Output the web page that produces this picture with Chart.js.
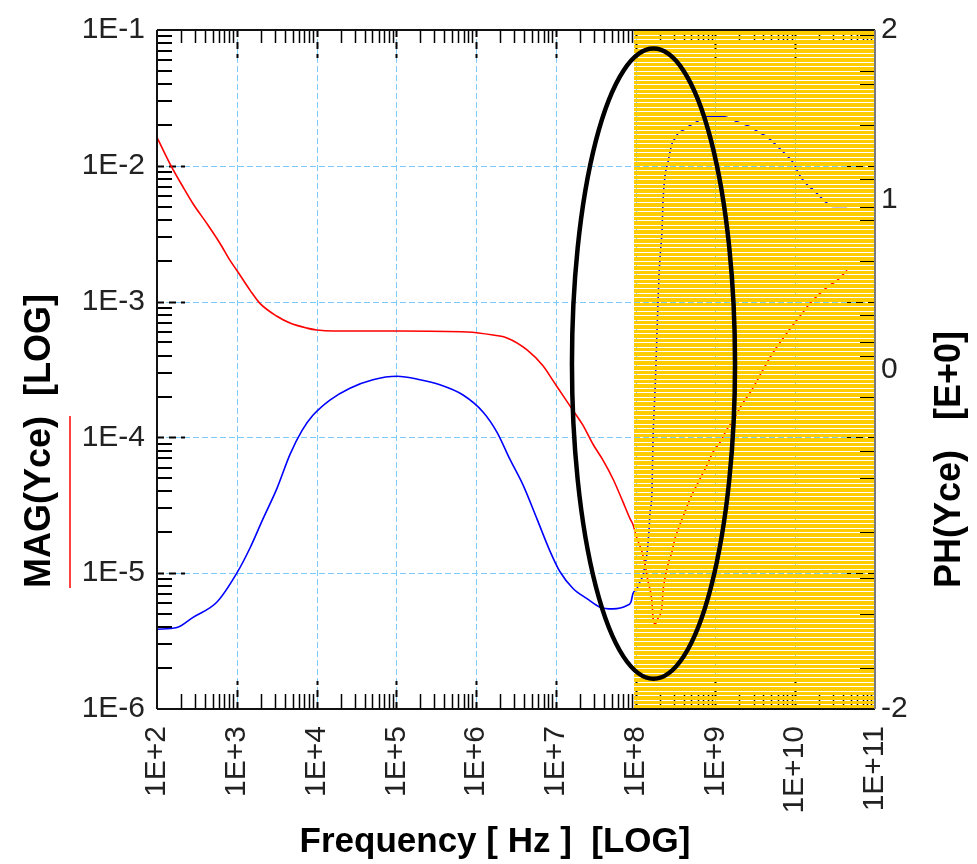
<!DOCTYPE html>
<html>
<head>
<meta charset="utf-8">
<title>Yce magnitude and phase</title>
<script src="https://cdn.jsdelivr.net/npm/chart.js@4/dist/chart.umd.min.js"></script>
<style>
  html, body { margin: 0; padding: 0; background: #ffffff; }
  canvas { display: block; }
</style>
</head>
<body>
<canvas id="chart" width="977" height="864"></canvas>
<script>
// Admittance Yce: magnitude (log axis, left) and phase (linear axis, right)
const magFreqHz = [
  100, 146, 212, 283, 423, 617, 823, 1.0e3, 1.47e3, 1.95e3,
  3.19e3, 4.65e3, 7.59e3, 1.01e4, 1.61e4, 1.11e5, 7.69e5, 1.63e6, 2.44e6, 4.35e6,
  6.89e6, 9.2e6, 1.23e7, 1.64e7, 2.18e7, 2.92e7, 3.89e7, 5.2e7, 6.93e7, 8.49e7,
  9.25e7, 1.04e8, 1.2e8, 1.31e8, 1.43e8, 1.6e8, 1.65e8, 1.75e8, 1.91e8, 2.14e8,
  2.2e8, 2.33e8, 2.54e8, 2.85e8, 3.11e8, 3.59e8, 4.15e8, 4.8e8, 6.4e8, 7.83e8,
  9.31e8, 1.14e9, 1.4e9, 1.66e9, 2.15e9, 2.87e9, 3.89e9, 5.26e9, 7.88e9, 1.15e10,
  1.53e10, 2.04e10, 2.73e10, 3.34e10, 4.46e10
];
const magYce = [
  1.62e-2, 1.03e-2, 6.98e-3, 5.25e-3, 3.75e-3, 2.68e-3, 2.01e-3, 1.70e-3, 1.21e-3, 9.7e-4,
  7.8e-4, 6.95e-4, 6.38e-4, 6.18e-4, 6.07e-4, 6.07e-4, 5.97e-4, 5.67e-4, 5.40e-4, 4.41e-4,
  3.37e-4, 2.62e-4, 2.03e-4, 1.58e-4, 1.23e-4, 8.9e-5, 6.8e-5, 4.94e-5, 3.35e-5, 2.52e-5,
  2.28e-5, 1.80e-5, 1.44e-5, 1.16e-5, 8.7e-6, 6.2e-6, 4.67e-6, 4.22e-6, 4.67e-6, 5.71e-6,
  7.36e-6, 9.2e-6, 1.16e-5, 1.44e-5, 1.80e-5, 2.28e-5, 2.83e-5, 3.52e-5, 4.94e-5, 6.25e-5,
  7.78e-5, 9.2e-5, 1.15e-4, 1.33e-4, 1.75e-4, 2.25e-4, 3.10e-4, 4.20e-4, 5.87e-4, 7.82e-4,
  9.7e-4, 1.15e-3, 1.32e-3, 1.43e-3, 1.70e-3
];

const phFreqHz = [
  100, 178, 283, 565, 1.0e3, 1.47e3, 2.13e3, 3.19e3, 4.65e3, 6.56e3,
  9.0e3, 1.47e4, 2.62e4, 5.09e4, 1.02e5, 1.98e5, 3.52e5, 6.86e5, 1.22e6, 1.83e6,
  2.66e6, 3.87e6, 5.79e6, 8.43e6, 1.12e7, 1.64e7, 2.45e7, 3.57e7, 5.2e7, 7.78e7,
  8.73e7, 9.25e7, 1.04e8, 1.13e8, 1.24e8, 1.31e8, 1.39e8, 1.43e8, 1.47e8, 1.51e8,
  1.6e8, 1.65e8, 1.7e8, 1.75e8, 1.8e8, 1.85e8, 1.91e8, 1.96e8, 2.02e8, 2.14e8,
  2.2e8, 2.33e8, 2.54e8, 2.69e8, 2.85e8, 3.11e8, 3.39e8, 3.92e8, 4.53e8, 5.87e8,
  7.83e8, 1.24e9, 1.86e9, 2.71e9, 3.41e9, 4.43e9, 5.26e9, 6.44e9, 7.88e9, 9.38e9,
  1.15e10, 1.4e10, 1.67e10, 2.04e10, 2.5e10, 2.97e10, 4.46e10
];
const phYce = [
  -1.53, -1.52, -1.46, -1.37, -1.20, -1.05, -0.88, -0.70, -0.50, -0.36,
  -0.27, -0.18, -0.11, -0.06, -0.04, -0.06, -0.09, -0.15, -0.25, -0.37,
  -0.53, -0.68, -0.88, -1.07, -1.19, -1.29, -1.35, -1.40, -1.41, -1.39,
  -1.37, -1.32, -1.29, -1.25, -1.21, -1.15, -1.08, -1.02, -0.95, -0.85,
  -0.72, -0.41, -0.25, -0.12, 0.04, 0.22, 0.41, 0.55, 0.66, 0.82,
  0.99, 1.14, 1.22, 1.28, 1.33, 1.36, 1.39, 1.41, 1.43, 1.46,
  1.49, 1.49, 1.46, 1.43, 1.40, 1.37, 1.34, 1.30, 1.26, 1.22,
  1.14, 1.09, 1.06, 1.02, 0.98, 0.96, 0.96
];

// Axis ticks and their labels
const freqTicks = [1e2, 1e3, 1e4, 1e5, 1e6, 1e7, 1e8, 1e9, 1e10, 1e11];
const freqTickLabels = ['1E+2', '1E+3', '1E+4', '1E+5', '1E+6', '1E+7', '1E+8', '1E+9', '1E+10', '1E+11'];
const magTicks = [1e-6, 1e-5, 1e-4, 1e-3, 1e-2, 1e-1];
const magTickLabels = ['1E-6', '1E-5', '1E-4', '1E-3', '1E-2', '1E-1'];
const phTicks = [-2, -1, 0, 1, 2];
const phTickLabels = ['-2', '', '0', '1', '2'];

// Hatched frequency band and the ringed resonance region
const shadedBandHz = [1e8, 1e11];
const highlightHz = [1.59e7, 1.76e9];
const highlightMag = [1.67e-6, 7.3e-2];

const FONT = '"Liberation Sans", Arial, Helvetica, sans-serif';
const GRID_BLUE = '#7ccbfb';

const frame = {
  id: 'frame',
  beforeDatasetsDraw(chart) {
    const { ctx, chartArea: a, scales: { x, y } } = chart;
    ctx.save();

    // dashed decade grid
    ctx.strokeStyle = GRID_BLUE;
    ctx.lineWidth = 1;
    ctx.setLineDash([6, 3]);
    ctx.beginPath();
    for (let i = 1; i < freqTicks.length - 1; i++) {
      const px = Math.round(x.getPixelForValue(freqTicks[i])) + 0.5;
      ctx.moveTo(px, a.top); ctx.lineTo(px, a.bottom);
    }
    for (let i = 1; i < magTicks.length - 1; i++) {
      const py = Math.round(y.getPixelForValue(magTicks[i])) + 0.5;
      ctx.moveTo(a.left, py); ctx.lineTo(a.right, py);
    }
    ctx.stroke();
    ctx.setLineDash([]);

    ctx.strokeStyle = '#000';
    // minor ticks: frequency axis (bottom and top edges)
    ctx.lineWidth = 1.5;
    ctx.beginPath();
    for (let i = 0; i < freqTicks.length - 1; i++) {
      for (let k = 2; k <= 9; k++) {
        const px = Math.round(x.getPixelForValue(freqTicks[i] * k)) + 0.5;
        ctx.moveTo(px, a.bottom); ctx.lineTo(px, a.bottom - 15);
        ctx.moveTo(px, a.top); ctx.lineTo(px, a.top + 13);
      }
    }
    ctx.stroke();

    // minor ticks: magnitude axis (left and right edges)
    ctx.lineWidth = 2;
    ctx.beginPath();
    for (let i = 0; i < magTicks.length - 1; i++) {
      for (let k = 2; k <= 9; k++) {
        const py = Math.round(y.getPixelForValue(magTicks[i] * k));
        ctx.moveTo(a.left, py); ctx.lineTo(a.left + 15, py);
        ctx.moveTo(a.right, py); ctx.lineTo(a.right - 15, py);
      }
    }
    ctx.stroke();

    // major ticks: short dashed strokes along the decade grid lines
    ctx.lineWidth = 2;
    ctx.setLineDash([7, 5]);
    ctx.beginPath();
    for (let i = 1; i < freqTicks.length - 1; i++) {
      const px = Math.round(x.getPixelForValue(freqTicks[i])) + 0.5;
      ctx.moveTo(px, a.bottom); ctx.lineTo(px, a.bottom - 28);
      ctx.moveTo(px, a.top); ctx.lineTo(px, a.top + 28);
    }
    for (let i = 1; i < magTicks.length - 1; i++) {
      const py = Math.round(y.getPixelForValue(magTicks[i])) + 0.5;
      ctx.moveTo(a.left, py); ctx.lineTo(a.left + 28, py);
      ctx.moveTo(a.right, py); ctx.lineTo(a.right - 28, py);
    }
    ctx.stroke();
    ctx.restore();
  },
  afterDatasetsDraw(chart) {
    const { ctx, chartArea: a, scales: { x, y } } = chart;
    ctx.save();

    // yellow band with thin white hatch lines
    const bx0 = Math.round(x.getPixelForValue(shadedBandHz[0])) - 2;
    const bx1 = Math.round(x.getPixelForValue(shadedBandHz[1]));
    const rows = 150;
    const h = (a.bottom - a.top) / rows;
    ctx.fillStyle = '#ffcc00';
    for (let i = 0; i < rows; i++) {
      const r0 = Math.round(a.top + i * h);
      const r1 = Math.round(a.top + (i + 1) * h);
      ctx.fillRect(bx0, r0 + 1, bx1 - bx0, r1 - r0 - 1);
    }

    // plot frame
    ctx.lineWidth = 2;
    ctx.strokeStyle = '#111';
    ctx.beginPath();
    ctx.moveTo(a.left, a.top); ctx.lineTo(a.right, a.top);
    ctx.moveTo(a.left, a.top); ctx.lineTo(a.left, a.bottom);
    ctx.moveTo(a.left, a.bottom); ctx.lineTo(a.right, a.bottom);
    ctx.stroke();
    ctx.strokeStyle = '#7a7a7a';
    ctx.beginPath();
    ctx.moveTo(a.right, a.top); ctx.lineTo(a.right, a.bottom);
    ctx.stroke();

    // ring around the resonance
    const ex0 = x.getPixelForValue(highlightHz[0]);
    const ex1 = x.getPixelForValue(highlightHz[1]);
    const ey0 = y.getPixelForValue(highlightMag[1]);
    const ey1 = y.getPixelForValue(highlightMag[0]);
    ctx.beginPath();
    ctx.ellipse((ex0 + ex1) / 2, (ey0 + ey1) / 2, (ex1 - ex0) / 2, (ey1 - ey0) / 2, 0, 0, Math.PI * 2);
    ctx.lineWidth = 4.5;
    ctx.strokeStyle = '#000';
    ctx.stroke();
    ctx.restore();
  },
  afterDraw(chart) {
    const { ctx } = chart;
    ctx.save();
    ctx.fillStyle = '#000';

    // frequency axis title
    ctx.font = 'bold 35px ' + FONT;
    ctx.textAlign = 'center';
    ctx.textBaseline = 'alphabetic';
    ctx.fillText('Frequency [ Hz ]  [LOG]', 495, 852);

    // magnitude axis title with its red series marker
    ctx.font = 'bold 36px ' + FONT;
    const magName = 'MAG(Yce)';
    const magTitle = magName + '  [LOG]';
    const titleBottom = 588;
    ctx.save();
    ctx.translate(40, titleBottom);
    ctx.rotate(-Math.PI / 2);
    ctx.textAlign = 'left';
    ctx.textBaseline = 'middle';
    ctx.fillText(magTitle, 0, 0);
    const nameW = ctx.measureText(magName).width;
    ctx.strokeStyle = '#ff0000';
    ctx.lineWidth = 1.5;
    ctx.beginPath();
    ctx.moveTo(0, 30); ctx.lineTo(nameW, 30);
    ctx.stroke();
    ctx.restore();

    // phase axis title
    ctx.save();
    ctx.translate(950, titleBottom);
    ctx.rotate(-Math.PI / 2);
    ctx.textAlign = 'left';
    ctx.textBaseline = 'middle';
    ctx.fillText('PH(Yce)   [E+0]', 0, 0);
    ctx.restore();
    ctx.restore();
  }
};

const tickFont = { family: FONT, size: 30 };

new Chart(document.getElementById('chart'), {
  type: 'line',
  data: {
    datasets: [
      {
        label: 'MAG(Yce)',
        data: magFreqHz.map((f, i) => ({ x: f, y: magYce[i] })),
        yAxisID: 'y',
        borderColor: '#ff0000',
        borderWidth: 1.6,
        pointRadius: 0,
        cubicInterpolationMode: 'monotone',
        fill: false
      },
      {
        label: 'PH(Yce)',
        data: phFreqHz.map((f, i) => ({ x: f, y: phYce[i] })),
        yAxisID: 'y2',
        borderColor: '#0000ff',
        borderWidth: 1.6,
        pointRadius: 0,
        cubicInterpolationMode: 'monotone',
        fill: false
      }
    ]
  },
  options: {
    responsive: false,
    animation: false,
    devicePixelRatio: 1,
    layout: { padding: { top: 25, left: 0, right: 0, bottom: 0 } },
    plugins: { legend: { display: false }, tooltip: { enabled: false } },
    scales: {
      x: {
        type: 'logarithmic',
        position: 'bottom',
        min: freqTicks[0],
        max: freqTicks[freqTicks.length - 1],
        afterBuildTicks: (s) => { s.ticks = freqTicks.map((v) => ({ value: v })); },
        afterFit: (s) => { s.height = 155; },
        grid: { display: false, drawTicks: false },
        border: { display: false },
        ticks: {
          autoSkip: false, minRotation: 90, maxRotation: 90, padding: 17,
          color: '#222', font: tickFont,
          callback: (v, i) => freqTickLabels[i]
        }
      },
      y: {
        type: 'logarithmic',
        position: 'left',
        min: magTicks[0],
        max: magTicks[magTicks.length - 1],
        afterBuildTicks: (s) => { s.ticks = magTicks.map((v) => ({ value: v })); },
        afterFit: (s) => { s.width = 157; },
        grid: { display: false, drawTicks: false },
        border: { display: false },
        ticks: {
          padding: 12, color: '#222', font: tickFont,
          callback: (v, i) => magTickLabels[i]
        }
      },
      y2: {
        type: 'linear',
        position: 'right',
        min: phTicks[0],
        max: phTicks[phTicks.length - 1],
        afterBuildTicks: (s) => { s.ticks = phTicks.map((v) => ({ value: v })); },
        afterFit: (s) => { s.width = 102; },
        grid: { display: false, drawTicks: false },
        border: { display: false },
        ticks: {
          padding: 6, color: '#222', font: tickFont,
          callback: (v, i) => phTickLabels[i]
        }
      }
    }
  },
  plugins: [frame]
});
</script>
</body>
</html>
